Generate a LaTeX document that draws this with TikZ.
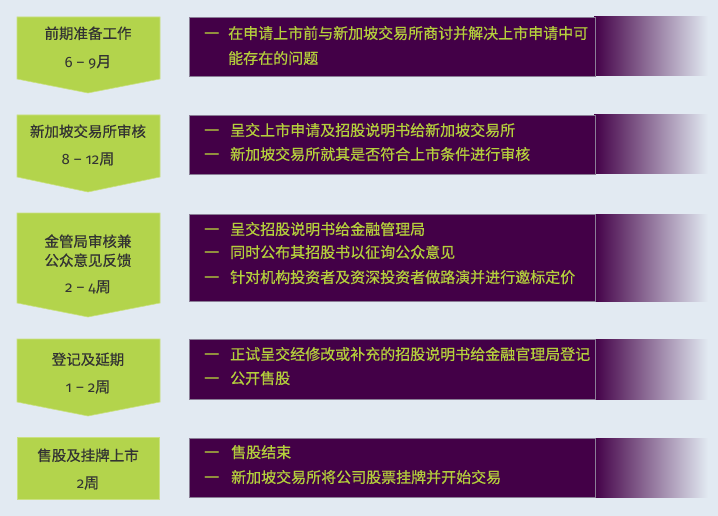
\documentclass[tikz,border=0pt]{standalone}
\usepackage{fontspec}
\setmainfont{Noto Sans CJK SC}
\newfontfamily\cjkbold[FakeBold=0.6]{Noto Sans CJK SC}
\newfontfamily\numfont[Numbers=OldStyle]{Fira Sans}
\definecolor{bgblue}{HTML}{E2EAF2}
\definecolor{stagegreen}{HTML}{B3D44C}
\definecolor{panelpurple}{HTML}{430047}
\definecolor{panelborder}{HTML}{8A7E96}
\definecolor{textgreen}{HTML}{B4CF3C}
\definecolor{darktext}{HTML}{333333}
\begin{document}
\begin{tikzpicture}[x=1pt,y=-1pt,
  stage/.style={fill=stagegreen, draw=stagegreen!70!white, line width=0.6pt},
  panel/.style={fill=panelpurple, draw=panelborder, line width=0.6pt},
  fade/.style={left color=panelpurple, right color=bgblue, draw=none},
  stxt/.style={font=\fontsize{14.5}{17}\selectfont\cjkbold, text=darktext, inner sep=0pt, text height=0.88em, text depth=0.12em},
  ntxt/.style={font=\fontsize{15}{17}\selectfont\numfont, text=darktext, inner sep=0pt},
  ptxt/.style={font=\fontsize{15}{17}\selectfont\cjkbold, text=textgreen, inner sep=0pt, anchor=west, text height=0.88em, text depth=0.12em},
]
\fill[bgblue] (0,0) rectangle (718,516);
\useasboundingbox (0,0) rectangle (718,516);

% ---------- stage shapes (green) ----------
\path[stage] (17,17) -- (160,17) -- (160,79) -- (88,93) -- (17,79) -- cycle;
\path[stage] (17,115) -- (160,115) -- (160,177) -- (88,192) -- (17,177) -- cycle;
\path[stage] (17,213) -- (160,213) -- (160,303) -- (88,317) -- (17,303) -- cycle;
\path[stage] (17,339) -- (160,339) -- (160,402) -- (88,416) -- (17,402) -- cycle;
\path[stage] (17,437) rectangle (159,499);

% ---------- panels (purple with fade) ----------
\foreach \t/\b in {17/76, 115/174, 214/301, 339/399, 438/497}{
  \shade[fade] (594,\t) rectangle (708,\b);
  \path[panel] (189,\t) rectangle (595,\b);
}

% ---------- stage texts ----------
\node[stxt] (s1a) at (88,35) {前期准备工作};
\node[ntxt] (s1b) at (88,62) {6 – 9\cjkbold 月};
\node[stxt] (s2a) at (88,133) {新加坡交易所审核};
\node[ntxt] (s2b) at (88,159) {8 – 12\cjkbold 周};
\node[stxt] (s3a) at (88,243) {金管局审核兼};
\node[stxt] (s3b) at (88,262) {公众意见反馈};
\node[ntxt] (s3c) at (88,287) {2 – 4\cjkbold 周};
\node[stxt] (s4a) at (88,361) {登记及延期};
\node[ntxt] (s4b) at (88,387) {1 – 2\cjkbold 周};
\node[stxt] (s5a) at (88,457) {售股及挂牌上市};
\node[ntxt] (s5b) at (88,483) {2\cjkbold 周};

% ---------- panel texts ----------
\node[ptxt] (d1a) at (204,35) {一};
\node[ptxt] (t1a) at (228,35) {在申请上市前与新加坡交易所商讨并解决上市申请中可};
\node[ptxt] (t1b) at (228,60) {能存在的问题};

\node[ptxt] (d2a) at (204,132) {一};
\node[ptxt] (t2a) at (230,132) {呈交上市申请及招股说明书给新加坡交易所};
\node[ptxt] (d2b) at (204,156) {一};
\node[ptxt] (t2b) at (230,156) {新加坡交易所就其是否符合上市条件进行审核};

\node[ptxt] (d3a) at (204,231) {一};
\node[ptxt] (t3a) at (230,231) {呈交招股说明书给金融管理局};
\node[ptxt] (d3b) at (204,254) {一};
\node[ptxt] (t3b) at (230,254) {同时公布其招股书以征询公众意见};
\node[ptxt] (d3c) at (204,279) {一};
\node[ptxt] (t3c) at (230,279) {针对机构投资者及资深投资者做路演并进行邀标定价};

\node[ptxt] (d4a) at (204,356) {一};
\node[ptxt] (t4a) at (230,356) {正试呈交经修改或补充的招股说明书给金融官理局登记};
\node[ptxt] (d4b) at (204,380) {一};
\node[ptxt] (t4b) at (230,380) {公开售股};

\node[ptxt] (d5a) at (204,454) {一};
\node[ptxt] (t5a) at (231,454) {售股结束};
\node[ptxt] (d5b) at (204,479) {一};
\node[ptxt] (t5b) at (231,479) {新加坡交易所将公司股票挂牌并开始交易};
\end{tikzpicture}
\end{document}
